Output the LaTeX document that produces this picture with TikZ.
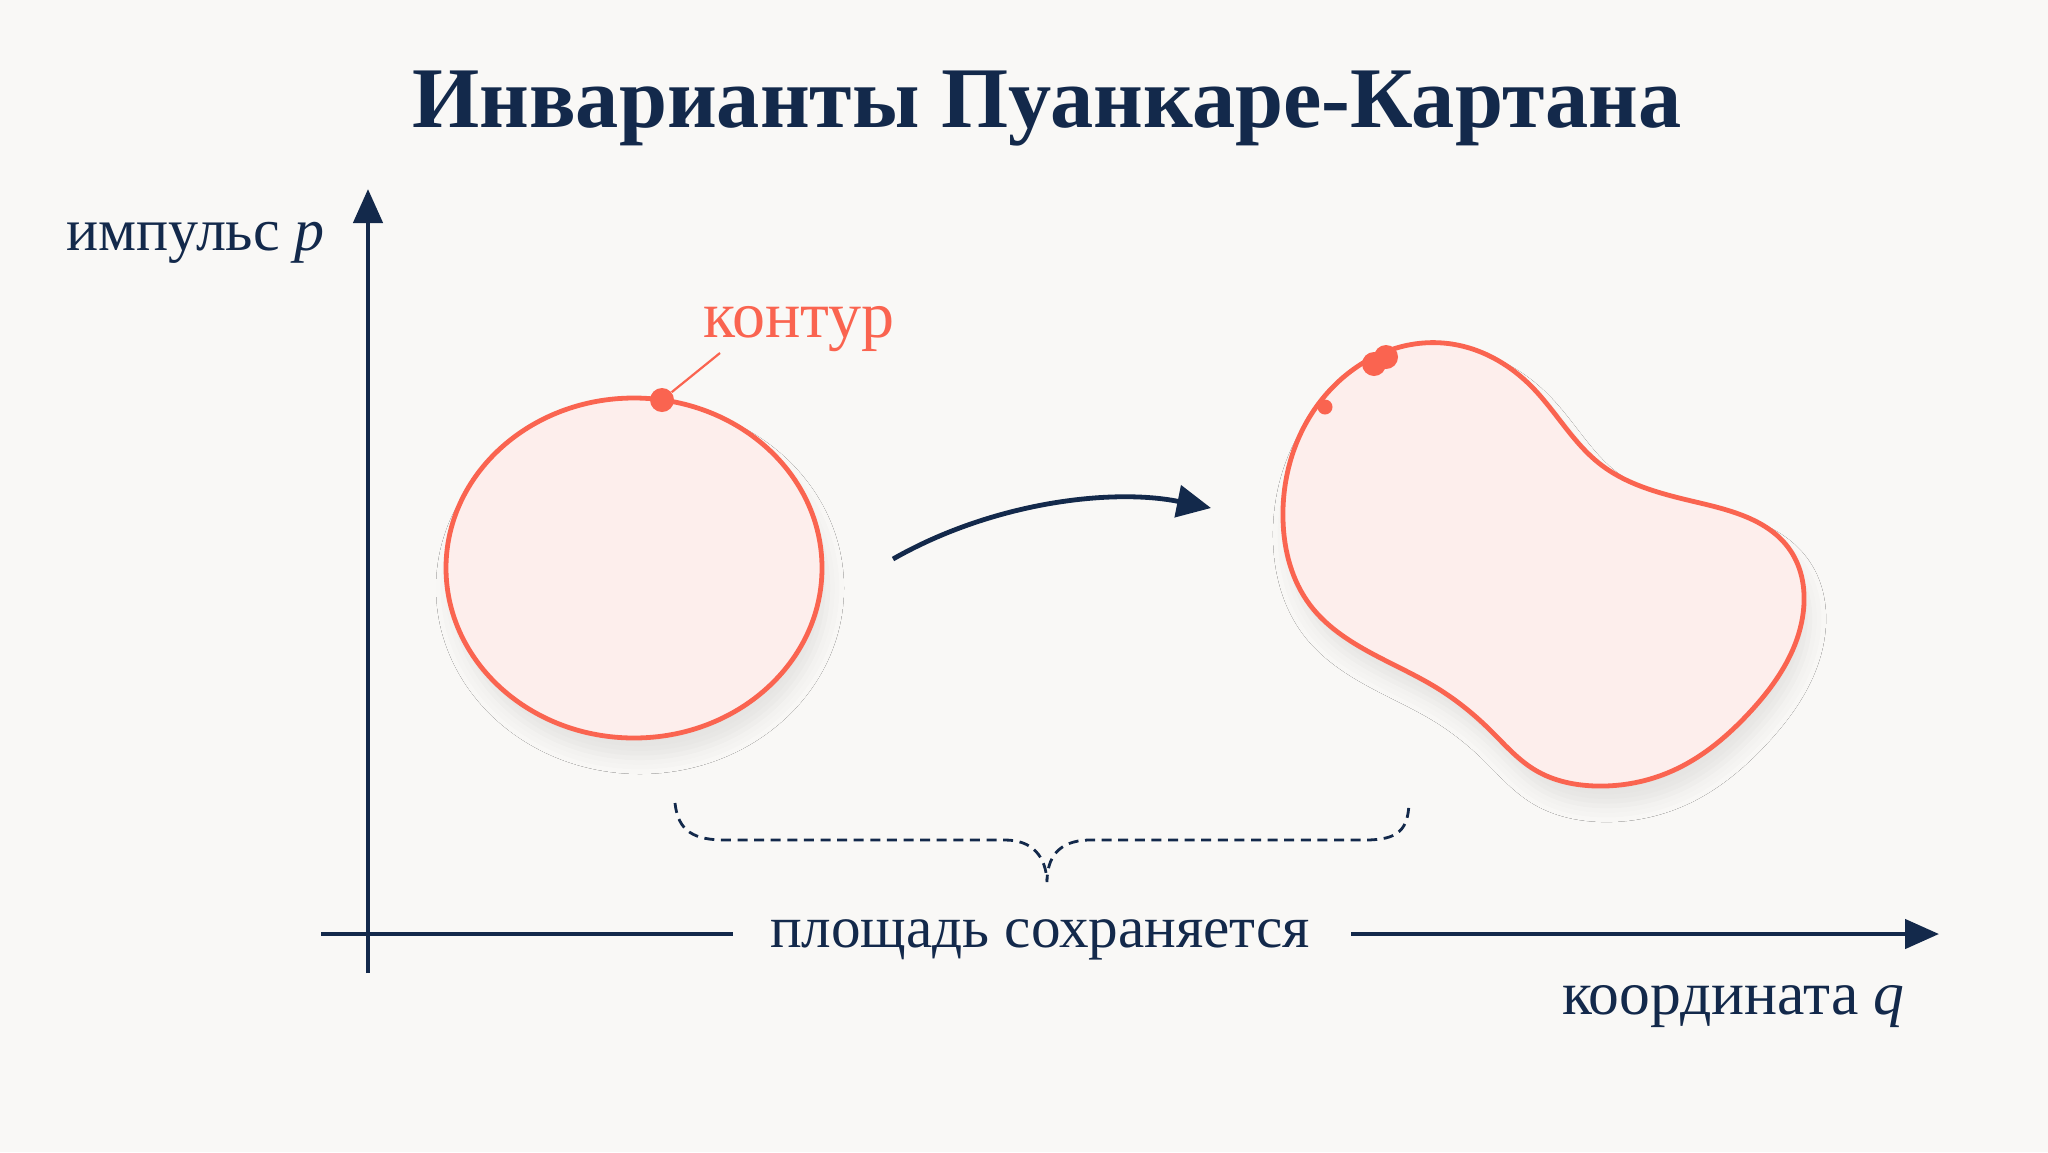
\documentclass[tikz,border=0pt]{standalone}
\usepackage{fontspec}
\setmainfont{Liberation Serif}
\usetikzlibrary{arrows.meta,shapes.geometric,shadows.blur,hobby}
\definecolor{navy}{RGB}{19,41,75}
\definecolor{coral}{RGB}{250,100,80}
\definecolor{pinkfill}{RGB}{253,238,236}
\definecolor{bgc}{RGB}{249,248,246}
\tikzset{
  axisline/.style={draw=navy, line width=2.3pt},
  axistip/.style={-{Triangle[length=17pt,width=14.5pt]}},
  contour/.style={draw=coral, line width=2.4pt, fill=pinkfill,
    blur shadow={shadow xshift=3pt, shadow yshift=-10pt, shadow blur radius=8pt, shadow opacity=8}},
  dotn/.style={circle, fill=coral, inner sep=0pt},
  lbl/.style={text=navy, inner sep=0pt},
  bracepath/.style={draw=navy, line width=1.4pt, dash pattern=on 5pt off 3.3pt},
  flowarrow/.style={draw=navy, line width=2.4pt, -{Triangle[length=17pt,width=16pt]}}
}
\begin{document}
\begin{tikzpicture}[x=0.5pt,y=-0.5pt]
\fill[bgc] (0,0) rectangle (2048,1152);
\useasboundingbox (0,0) rectangle (2048,1152);

% title
\node[anchor=base, text=navy, inner sep=0pt, font=\fontsize{43.2pt}{50pt}\selectfont\bfseries] (title) at (1047,127) {Инварианты Пуанкаре-Картана};

% axes
\coordinate (ybot) at (368,973);
\coordinate (ytop) at (368,189);
\coordinate (xl) at (321,934);
\coordinate (xr) at (1939,934);
\coordinate (xg1) at (733,934);
\coordinate (xg2) at (1351,934);
\draw[axisline, axistip] (ybot) -- (ytop);
\draw[axisline] (xl) -- (xg1);
\draw[axisline, axistip] (xg2) -- (xr);

\node[lbl, anchor=base west, font=\fontsize{30pt}{36pt}\selectfont] (plabel) at (66,250) {импульс \textit{p}};
\node[lbl, anchor=base east, font=\fontsize{30.8pt}{36pt}\selectfont] (qlabel) at (1905,1014) {координата \textit{q}};
\node[lbl, anchor=base, font=\fontsize{29.6pt}{36pt}\selectfont] (area) at (1040,947) {площадь сохраняется};

% initial region
\node[contour, ellipse, minimum width=188pt, minimum height=170pt, inner sep=0pt] (c1) at (634,568) {};
\node[dotn, minimum size=12pt] (d1) at (662,400) {};
\node[lbl, text=coral, anchor=base west, font=\fontsize{33pt}{38pt}\selectfont] (clabel) at (703,337) {контур};
\coordinate (lead) at (720,353);
\draw[coral, line width=1.1pt] (lead) -- (d1);

% evolved region
\draw[contour, use Hobby shortcut, closed=true]
 (1443,343) .. (1530,385) .. (1600,464) .. (1700,503) .. (1790,550) .. (1803,614)
 .. (1750,712) .. (1672,771) .. (1596,786) .. (1535,770) .. (1489,729)
 .. (1437,688) .. (1371,653) .. (1310,605) .. (1283,520) .. (1330,390);
\node[dotn, minimum size=12pt] (d2) at (1374,364) {};
\node[dotn, minimum size=12pt] (d3) at (1386,357) {};
\node[dotn, minimum size=7.5pt] (d4) at (1325,407) {};

% flow arrow
\coordinate (fa) at (893,559);
\coordinate (fb) at (1211,508);
\draw[flowarrow] (fa) .. controls (993,502) and (1112,488) .. (fb);

% brace
\coordinate (bl) at (675,803);
\coordinate (btip) at (1047,882);
\coordinate (br) at (1409,803);
\draw[bracepath] (bl) .. controls (678,832) and (695,840) .. (725,840) -- (1005,840)
  .. controls (1032,840) and (1046,856) .. (btip)
  .. controls (1047,858) and (1058,841) .. (1088,840) -- (1365,840)
  .. controls (1398,840) and (1408,830) .. (br);
\end{tikzpicture}
\end{document}
